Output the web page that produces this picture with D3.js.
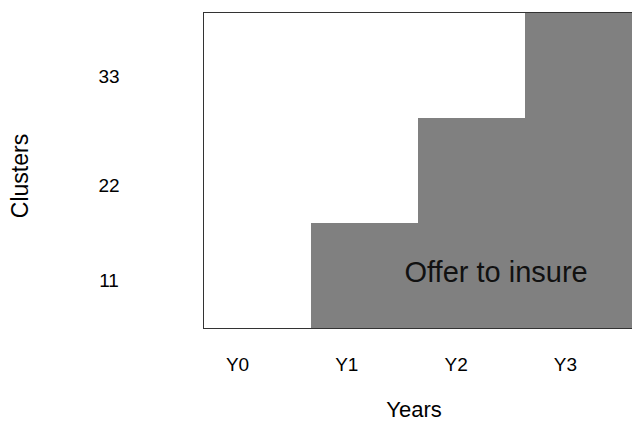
<!DOCTYPE html>
<html>
<head>
<meta charset="utf-8">
<script src="https://cdn.jsdelivr.net/npm/d3@7"></script>
<style>
  html, body { margin: 0; padding: 0; background: #fff; }
  svg { display: block; font-family: "Liberation Sans", Arial, sans-serif; }
</style>
</head>
<body>
<svg id="chart" width="632" height="422"></svg>
<script>
// Data
const years = ["Y0", "Y1", "Y2", "Y3"];
const insuredClusters = [0, 11, 22, 33];
const yTickLabels = ["11", "22", "33"];
const yTickAt = [5.0, 14.9, 26.3];   // where the tick labels sit, in cluster units
const totalClusters = 33;
const areaLabel = "Offer to insure";

const svg = d3.select("#chart");
const plot = { left: 204, right: 632, top: 13, bottom: 328 };

const x = d3.scaleBand().domain(years).range([plot.left, plot.right]).padding(0);
const y = d3.scaleLinear().domain([0, totalClusters]).range([plot.bottom, plot.top]);
const xLabel = d3.scalePoint().domain(years).range([237.5, 565.4]);

// filled steps
svg.append("g").selectAll("rect")
  .data(years.map((d, i) => ({ year: d, v: insuredClusters[i] })))
  .join("rect")
  .attr("x", d => x(d.year))
  .attr("width", x.bandwidth())
  .attr("y", d => y(d.v))
  .attr("height", d => y(0) - y(d.v))
  .attr("fill", "#808080");

// frame
svg.append("rect")
  .attr("x", plot.left - 0.5)
  .attr("y", plot.top - 0.5)
  .attr("width", plot.right - plot.left + 1)
  .attr("height", plot.bottom - plot.top + 1)
  .attr("fill", "none")
  .attr("stroke", "#333")
  .attr("stroke-width", 1);

// area label
svg.append("text")
  .attr("x", x("Y2") + x.bandwidth() * 0.73)
  .attr("y", 282)
  .attr("text-anchor", "middle")
  .attr("font-size", 29)
  .attr("fill", "#111")
  .text(areaLabel);

// x tick labels
svg.append("g").selectAll("text")
  .data(years)
  .join("text")
  .attr("x", d => xLabel(d))
  .attr("y", 371)
  .attr("text-anchor", "middle")
  .attr("font-size", 19)
  .attr("fill", "#000")
  .text(d => d);

// y tick labels
svg.append("g").selectAll("text")
  .data(yTickLabels)
  .join("text")
  .attr("x", 109)
  .attr("y", (d, i) => y(yTickAt[i]) + 6.5)
  .attr("text-anchor", "middle")
  .attr("font-size", 19)
  .attr("fill", "#000")
  .text(d => d);

// axis titles
svg.append("text")
  .attr("x", 414)
  .attr("y", 417)
  .attr("text-anchor", "middle")
  .attr("font-size", 22)
  .attr("fill", "#000")
  .text("Years");

svg.append("text")
  .attr("transform", "translate(28,176) rotate(-90)")
  .attr("text-anchor", "middle")
  .attr("font-size", 23)
  .attr("fill", "#000")
  .text("Clusters");
</script>
</body>
</html>
